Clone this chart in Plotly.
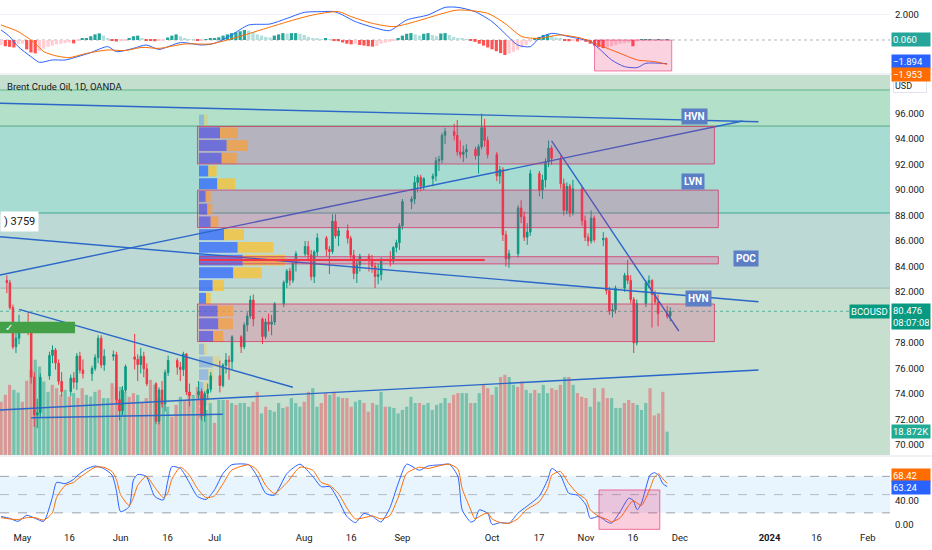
import pandas as pd
import plotly.graph_objects as go

# daily bars, weekends skipped (TradingView style)
dates = pd.bdate_range("2023-04-24", "2023-11-28")

open_ = [
    82.90, 82.73, 80.77, 77.69, 78.37,
    79.54, 79.31, 75.32, 72.33, 72.50, 75.40, 77.01, 77.44, 76.41, 74.98, 74.17, 75.23, 74.91, 76.96, 75.86,
    75.58, 75.99, 76.84, 78.36, 76.26, 76.95, 77.07, 73.54,
    72.66, 74.28, 76.90, 76.71, 76.29, 76.95, 75.96, 74.79, 71.84, 74.29, 73.20, 75.67, 76.61, 76.09, 75.90,
    77.12, 74.14, 73.90, 74.18, 72.26, 74.03, 74.34,
    75.41, 74.65, 76.25, 76.65, 76.52, 78.47, 77.69, 79.40, 80.11, 81.36, 79.87, 78.50, 79.63, 79.46, 79.64,
    81.07, 82.74, 83.64, 82.92, 84.24, 84.99,
    85.56, 84.91, 83.20, 85.14, 86.24, 85.34, 85.17, 87.55, 86.40, 86.81, 86.21, 84.89, 83.45, 84.12, 84.80,
    84.46, 84.03, 83.21, 83.36, 84.48, 84.42, 85.49, 85.86,
    87.20, 89.10, 89.30, 90.60, 91.00, 90.30, 90.90, 91.10, 92.30, 92.40, 94.30, 94.60, 94.30, 93.00, 92.80,
    93.00, 93.20, 92.70, 93.40, 94.90, 93.90,
    92.80, 91.10, 91.60, 86.50, 84.60, 85.00, 88.60, 87.90, 86.30, 86.70, 91.30, 90.00, 90.80, 92.20, 93.30,
    92.50, 90.50, 88.40, 90.30, 88.20, 90.10, 87.60,
    86.30, 86.00, 87.80, 86.10, 86.20, 82.10, 80.50, 80.60, 82.30, 83.30, 82.90, 81.40, 78.00, 81.10, 82.70,
    82.90, 81.80, 81.20, 80.30, 80.10,
]
high = [
    83.30, 82.95, 81.00, 78.90, 80.20,
    80.40, 79.50, 75.70, 73.60, 75.60, 77.30, 77.80, 77.60, 76.70, 75.70, 75.50, 75.70, 77.20, 77.30, 76.70,
    76.20, 77.10, 78.60, 78.60, 77.50, 77.40, 77.30, 74.20,
    74.60, 76.30, 78.70, 77.10, 77.60, 77.30, 76.40, 74.90, 74.50, 75.00, 75.90, 77.00, 76.80, 76.50, 77.30,
    77.20, 74.80, 75.00, 74.40, 74.20, 74.80, 75.70,
    76.60, 76.40, 77.20, 77.00, 78.60, 78.60, 79.60, 80.40, 81.70, 81.80, 80.00, 79.90, 80.30, 80.20, 81.20,
    82.90, 83.80, 83.90, 84.40, 85.20, 86.00,
    86.00, 85.30, 85.30, 86.60, 86.40, 85.60, 88.10, 88.10, 87.10, 87.30, 86.40, 85.30, 84.60, 85.00, 85.00,
    84.90, 84.30, 84.20, 84.70, 85.20, 85.60, 86.10, 87.40,
    89.30, 89.50, 91.10, 91.20, 91.20, 91.00, 91.30, 92.60, 92.70, 94.50, 94.90, 95.20, 95.50, 93.90, 93.50,
    93.60, 93.40, 93.60, 96.00, 95.60, 94.20,
    93.00, 91.90, 91.80, 86.80, 85.30, 88.80, 89.20, 88.30, 87.40, 91.60, 91.50, 91.20, 92.50, 93.90, 93.50,
    92.70, 90.90, 90.60, 90.50, 90.80, 90.30, 88.00,
    86.60, 88.40, 88.00, 86.70, 86.30, 82.40, 81.10, 82.50, 83.50, 84.50, 83.30, 81.60, 81.40, 82.90, 83.30,
    83.00, 82.10, 81.80, 80.90, 80.80,
]
low = [
    81.90, 80.60, 77.50, 77.20, 77.90,
    78.60, 74.80, 71.40, 71.30, 72.20, 75.10, 76.40, 75.90, 74.70, 73.80, 73.80, 74.40, 74.30, 75.60, 75.20,
    75.00, 75.80, 76.40, 76.00, 75.80, 76.60, 73.20, 71.90,
    72.30, 74.10, 75.90, 75.00, 75.60, 75.30, 74.60, 71.60, 71.60, 72.90, 72.60, 75.40, 75.50, 75.00, 75.40,
    73.90, 73.00, 73.60, 71.90, 71.80, 73.60, 74.10,
    74.10, 74.50, 75.60, 75.10, 75.90, 77.20, 77.50, 78.90, 79.90, 79.30, 77.90, 78.30, 78.90, 78.60, 79.40,
    80.80, 82.30, 82.50, 82.70, 83.60, 84.80,
    84.40, 82.90, 82.70, 84.80, 84.80, 83.40, 85.00, 86.20, 85.60, 85.80, 84.60, 83.00, 82.70, 83.60, 83.60,
    83.50, 82.30, 82.60, 82.90, 84.00, 84.20, 85.10, 85.30,
    86.90, 88.50, 88.90, 89.80, 89.90, 90.00, 90.30, 90.70, 91.50, 92.10, 93.60, 93.90, 92.70, 92.50, 92.20,
    92.50, 92.40, 91.30, 93.20, 93.40, 92.50,
    90.70, 90.50, 86.00, 84.00, 83.90, 84.70, 87.40, 86.00, 85.70, 86.40, 89.50, 89.30, 90.20, 91.80, 92.00,
    90.10, 88.00, 88.10, 87.90, 88.00, 87.20, 86.00,
    85.60, 85.80, 85.90, 85.60, 81.80, 80.20, 80.00, 80.30, 82.00, 82.60, 81.10, 77.20, 77.80, 80.80, 82.30,
    79.20, 81.00, 79.30, 79.90, 79.70,
]
close = [
    82.73, 80.77, 77.69, 78.37, 79.54,
    79.31, 75.32, 72.33, 72.50, 75.30, 77.01, 77.44, 76.41, 74.98, 74.17, 75.23, 74.91, 76.96, 75.86, 75.58,
    75.99, 76.84, 78.36, 76.26, 76.95, 77.07, 73.54, 72.66,
    74.28, 76.13, 76.71, 76.29, 76.95, 75.96, 74.79, 71.84, 74.29, 73.20, 75.67, 76.61, 76.09, 75.90, 77.12,
    74.14, 73.85, 74.18, 72.26, 74.03, 74.34, 75.41,
    74.65, 76.25, 76.65, 76.52, 78.47, 77.69, 79.40, 80.11, 81.36, 79.87, 78.50, 79.63, 79.46, 79.64, 81.07,
    82.74, 83.64, 82.92, 84.24, 84.99, 85.56,
    84.91, 83.20, 85.14, 86.24, 85.34, 85.17, 87.55, 86.40, 86.81, 86.21, 84.89, 83.45, 84.12, 84.80, 84.46,
    84.03, 83.21, 83.36, 84.48, 84.42, 85.49, 85.86, 87.20,
    89.10, 89.30, 90.60, 91.00, 90.30, 90.90, 91.10, 92.30, 92.40, 94.30, 94.60, 94.30, 93.00, 92.80, 93.00,
    93.20, 92.70, 93.40, 94.90, 93.90, 92.80,
    91.10, 91.60, 86.50, 84.60, 85.00, 88.60, 87.90, 86.30, 86.70, 91.30, 90.00, 90.80, 92.20, 93.30, 92.50,
    90.50, 88.40, 90.30, 88.20, 90.10, 87.60, 86.30,
    86.00, 87.80, 86.10, 86.20, 82.10, 80.50, 80.60, 82.30, 83.30, 82.90, 81.40, 78.00, 81.10, 82.70, 82.90,
    81.80, 81.20, 80.30, 80.10, 80.476,
]
volume_k = [
    43, 48.6, 56.7, 52.6, 50.4,
    43, 60, 68.8, 77, 71.5, 59.4, 51, 56.7, 54, 48.6, 52.6, 47.2, 50, 46, 54, 48.6, 47.2, 51, 52.6, 46, 46, 58, 55,
    55, 51, 47, 50, 48.6, 43, 46, 60.7, 56.7, 46, 41.8, 39, 31, 40.5, 47, 44.5, 51, 48.6, 55, 47, 36.4, 42,
    26, 44.5, 44.5, 44.5, 42, 40.5, 42, 42, 39, 43, 51, 33.6, 39, 36.4, 35, 42, 38, 39, 46, 42, 39,
    43, 51, 54, 39, 42, 50, 48.6, 51, 47, 46, 46, 39, 43, 44.5, 42, 35, 42, 40.5, 51, 39, 39, 38, 33.6,
    36.4, 39, 47, 42, 42, 40.5, 42, 36.4, 40.5, 42, 46, 42, 48.6, 50, 50, 50, 42, 42, 50, 56.7, 54,
    48.6, 55, 63, 64.8, 63, 56.7, 55, 59.4, 52.6, 50, 52.6, 50, 56.7, 50, 54, 52.6, 56.7, 63, 63, 56.7, 50, 47,
    46, 39, 54, 43, 54, 46, 46, 38, 38, 42, 44.5, 42, 40.5, 36.4, 42, 54, 32, 33.6, 51, 18.872,
]

# MACD pane
macd_hist = [
    -0.40, -0.50, -0.55, -0.60, -0.35,
    -0.30, -0.75, -1.00, -1.07, -0.90, -0.70, -0.55, -0.45, -0.35, -0.30, -0.25, -0.20, -0.27, -0.05, 0.08,
    0.15, 0.30, 0.45, 0.53, 0.35, 0.15, -0.05, -0.12,
    -0.10, -0.04, 0.15, 0.30, 0.35, 0.15, -0.03, -0.06, -0.10, -0.08, -0.03, 0.20, 0.35, 0.45, 0.30, 0.10,
    0.05, 0.02, -0.06, -0.05, 0.02, 0.08,
    0.12, 0.22, 0.35, 0.45, 0.55, 0.62, 0.70, 0.80, 0.75, 0.60, 0.45, 0.35, 0.25, 0.20, 0.35, 0.45, 0.55,
    0.50, 0.55, 0.55, 0.50,
    0.40, 0.25, 0.15, 0.10, 0.05, 0.10, 0.03, -0.02, -0.10, -0.20, -0.30, -0.35, -0.30, -0.40, -0.45, -0.50,
    -0.53, -0.48, -0.30, -0.22, -0.15, -0.05, 0.15,
    0.35, 0.50, 0.55, 0.45, 0.35, 0.50, 0.55, 0.40, 0.30, 0.52, 0.55, 0.40, 0.25, 0.15, 0.08, 0.03, -0.05,
    -0.15, -0.30, -0.45, -0.60,
    -0.75, -0.90, -1.05, -1.20, -1.10, -0.95, -0.80, -0.60, -0.40, -0.15, 0.10, 0.25, 0.40, 0.45, 0.35, 0.20,
    0.08, -0.05, -0.10, -0.08, -0.12, -0.05,
    -0.15, -0.30, -0.45, -0.55, -0.65, -0.60, -0.50, -0.40, -0.30, -0.25, -0.20, -0.50, -0.10, 0.02, 0.04,
    0.05, 0.03, 0.05, 0.04, 0.06,
]
macd_at = [0, 2, 4, 7, 9, 12, 15, 18, 21, 25, 27, 31, 34, 37, 42, 47, 50, 54, 58, 63, 67, 71, 75, 78,
           80, 83, 88, 91, 95, 100, 104, 107, 111, 115, 118, 121, 124, 126, 129, 133, 138, 140, 143,
           146, 149, 151, 156]
macd_line = [0.8, 0.27, -0.53, -1.33, -1.79, -1.6, -1.6, -1.33, -1.01, -0.53, -0.93, -0.67, -0.4, -0.75,
             -0.21, -0.4, -0.27, 0.4, 1.2, 1.28, 1.73, 2.21, 2.27, 2.27, 2.0, 1.47, 0.93, 0.75, 1.6, 2.0,
             2.61, 2.61, 2.27, 1.47, 0.53, -0.4, -0.53, 0.13, 0.53, 0.27, -0.13, -0.67, -1.6, -2.13,
             -2.21, -1.87, -1.894]
signal_at = [0, 4, 8, 10, 13, 16, 20, 25, 29, 33, 37, 43, 49, 53, 57, 62, 68, 73, 79, 82, 87, 92, 97,
             103, 107, 114, 118, 122, 126, 131, 136, 140, 145, 149, 153, 156]
signal_line = [1.2, 0.67, -0.27, -0.93, -1.28, -1.41, -1.07, -0.8, -0.85, -0.59, -0.67, -0.32, -0.32, 0,
               0.4, 0.93, 1.55, 2.0, 2.27, 1.87, 1.33, 1.07, 1.47, 2.08, 2.4, 2.13, 1.33, 0.27, 0.13,
               0.4, 0.13, -0.4, -1.07, -1.6, -1.73, -1.953]

# Stochastic pane
stoch_at = [0, 2, 4, 6, 8, 10, 12, 13, 15, 17, 18, 20, 22, 24, 26, 27, 28, 30, 31, 32, 34, 36, 38, 39,
            40, 42, 44, 46, 48, 50, 52, 54, 58, 60, 62, 64, 67, 70, 73, 75, 77, 79, 81, 83, 85, 87, 89,
            91, 93, 95, 98, 100, 103, 105, 107, 108, 110, 111, 112, 114, 115, 117, 119, 121, 123, 126,
            128, 129, 131, 133, 135, 137, 138, 140, 142, 143, 145, 147, 148, 149, 150, 152, 153, 154,
            155, 156]
stoch_k = [14, 11, 6, 16, 11, 6, 45, 70, 68, 75, 82, 92, 97, 93, 82, 57, 22, 30, 74, 83, 80, 47, 41, 71,
           96, 93, 71, 47, 42, 58, 85, 99, 99, 80, 52, 49, 85, 100, 80, 63, 63, 41, 14, 4, 19, 14, 5, 27,
           68, 100, 90, 97, 99, 100, 80, 25, 5, 8, 25, 19, 1, 4, 3, 19, 30, 47, 74, 93, 82, 52, 49, 33,
           11, 14, 5, 3, 22, 44, 41, 25, 36, 82, 86, 82, 68, 63.24]
stoch_d = [12, 10, 9, 12, 12, 8, 20, 45, 65, 70, 76, 86, 95, 95, 88, 75, 50, 32, 45, 65, 80, 62, 45, 52,
           75, 95, 83, 60, 45, 48, 68, 90, 99, 90, 65, 52, 70, 95, 90, 70, 65, 52, 28, 10, 12, 15, 10, 15,
           45, 85, 95, 93, 98, 100, 92, 60, 25, 10, 14, 20, 10, 4, 3, 10, 25, 38, 60, 82, 88, 68, 52, 42,
           25, 14, 9, 5, 12, 32, 40, 36, 32, 60, 78, 84, 76, 68.42]

# Volume profile rows (row low price, buy / sell volume)
vp_low = [72, 73, 74, 75, 76, 77, 78, 79, 80, 81, 82, 83, 84, 85, 86, 87, 88, 89, 90, 91, 92, 93, 94, 95]
vp_buy = [27, 77, 43, 93, 137, 50, 143, 193, 187, 70, 137, 343, 437, 387, 250, 117, 83, 67, 183, 93,
          227, 277, 210, 50]
vp_sell = [23, 33, 50, 50, 73, 27, 100, 147, 156, 47, 113, 284, 423, 356, 200, 76, 50, 50, 177, 84,
           150, 213, 180, 40]
value_area = (78, 94)

# drawings: trend lines ((date, price), (date, price))
trend_lines = [
    (("2023-04-21 18:00", 96.82), ("2023-12-27", 95.37)),
    (("2023-04-21 18:00", 83.33), ("2023-12-21 19:00", 95.43)),
    (("2023-04-21 18:00", 86.34), ("2023-12-27", 81.23)),
    (("2023-10-20", 93.86), ("2023-11-30 19:00", 78.93)),
    (("2023-04-28 01:00", 80.63), ("2023-07-27", 74.51)),
    (("2023-04-21 18:00", 72.72), ("2023-12-27", 75.87)),
    (("2023-05-02", 72.12), ("2023-07-04", 72.39)),
]
zones = [  # (bottom, top, colour)
    (97.86, 99.04, "#c5dfce"),
    (95.03, 97.86, "#b3e0c8"),
    (88.20, 95.03, "#a7dcd3"),
    (82.30, 88.20, "#bdd9d6"),
    (69.19, 82.30, "#c6dfcf"),
]
zone_lines = [(97.86, "#5fb58a"), (95.03, "#5aa982"), (88.20, "#38a98e"), (82.30, "#a3b3ab")]
boxes = [  # (start, end, bottom, top)
    ("2023-06-27", "2023-12-13 02:00", 92.05, 95.00),
    ("2023-06-27", "2023-12-14", 87.05, 90.00),
    ("2023-06-27 12:00", "2023-12-14", 84.20, 84.77),
    ("2023-06-27", "2023-12-13 02:00", 78.10, 81.05),
]
level_tags = [("HVN", "2023-12-06 10:00", 95.76), ("LVN", "2023-12-06", 90.64),
              ("POC", "2023-12-22 14:00", 84.59), ("HVN", "2023-12-07 07:00", 81.52)]

tick_dates = ["2023-05-01", "2023-05-16", "2023-06-01", "2023-06-16", "2023-07-03", "2023-08-01",
              "2023-08-16", "2023-09-01", "2023-10-02", "2023-10-17", "2023-11-01", "2023-11-16",
              "2023-12-01", "2024-01-01", "2024-01-16", "2024-02-01"]
tick_text = ["May", "16", "Jun", "16", "Jul", "Aug", "16", "Sep", "Oct", "17", "Nov", "16", "Dec",
             "<b>2024</b>", "16", "Feb"]
# 80.000 sits under the last-price tag, as in the original
price_ticks = [70, 72, 74, 76, 78, 82, 84, 86, 88, 90, 92, 94, 96]

UP, DOWN = "#089981", "#f23645"
BLUE, ORANGE = "#2962ff", "#ff6d00"
DRAW = "#2a67c9"
X_RANGE = ["2023-04-21 18:00", "2024-02-08 05:00"]
BREAKS = [dict(bounds=["sat", "mon"])]

fig = go.Figure()

# volume (base subplot, so it stays under everything else)
vol_colors = ["rgba(8,153,129,0.42)" if c >= o else "rgba(242,54,69,0.42)" for o, c in zip(open_, close)]
fig.add_trace(go.Bar(x=dates, y=volume_k, marker=dict(color=vol_colors, line_width=0),
                     xaxis="x", yaxis="y"))

# volume profile
vp_mid = [p + 0.5 for p in vp_low]
in_va = [value_area[0] <= p <= value_area[1] for p in vp_low]
fig.add_trace(go.Bar(y=vp_mid, x=vp_buy, base=0, orientation="h", width=0.86,
                     marker=dict(color=["rgba(41,98,255,0.72)" if v else "rgba(41,98,255,0.28)" for v in in_va],
                                 line_width=0),
                     xaxis="x2", yaxis="y2"))
fig.add_trace(go.Bar(y=vp_mid, x=vp_sell, base=vp_buy, orientation="h", width=0.86,
                     marker=dict(color=["rgba(251,192,45,0.75)" if v else "rgba(251,192,45,0.3)" for v in in_va],
                                 line_width=0),
                     xaxis="x2", yaxis="y2"))

# candles
fig.add_trace(go.Candlestick(
    x=dates, open=open_, high=high, low=low, close=close,
    increasing=dict(line=dict(color=UP, width=1), fillcolor=UP),
    decreasing=dict(line=dict(color=DOWN, width=1), fillcolor=DOWN),
    whiskerwidth=0, xaxis="x3", yaxis="y2"))

for (d0, p0), (d1, p1) in trend_lines:
    fig.add_trace(go.Scatter(x=[d0, d1], y=[p0, p1], mode="lines", line=dict(color=DRAW, width=1.4),
                             xaxis="x3", yaxis="y2"))

# MACD
hist_colors = []
for i, v in enumerate(macd_hist):
    prev = macd_hist[i - 1] if i else v
    if v >= 0:
        hist_colors.append("#26a69a" if v >= prev else "#b2dfdb")
    else:
        hist_colors.append("#ffcdd2" if v >= prev else "#ff5252")
fig.add_trace(go.Bar(x=dates, y=macd_hist, marker=dict(color=hist_colors, line_width=0),
                     xaxis="x", yaxis="y3"))
fig.add_trace(go.Scatter(x=[dates[i] for i in macd_at], y=macd_line, mode="lines",
                         line=dict(color=BLUE, width=1, shape="spline", smoothing=0.7), xaxis="x", yaxis="y3"))
fig.add_trace(go.Scatter(x=[dates[i] for i in signal_at], y=signal_line, mode="lines",
                         line=dict(color=ORANGE, width=1, shape="spline", smoothing=0.7), xaxis="x", yaxis="y3"))

# Stochastic
fig.add_trace(go.Scatter(x=[dates[i] for i in stoch_at], y=stoch_k, mode="lines",
                         line=dict(color=BLUE, width=1, shape="spline", smoothing=0.6), xaxis="x", yaxis="y4"))
fig.add_trace(go.Scatter(x=[dates[i] for i in stoch_at], y=stoch_d, mode="lines",
                         line=dict(color=ORANGE, width=1, shape="spline", smoothing=0.6), xaxis="x", yaxis="y4"))

shapes = []
for y0, y1, col in zones:
    shapes.append(dict(type="rect", xref="paper", yref="y2", x0=0, x1=1, y0=y0, y1=y1,
                       fillcolor=col, line_width=0, layer="below"))
for y, col in zone_lines:
    shapes.append(dict(type="line", xref="paper", yref="y2", x0=0, x1=1, y0=y, y1=y,
                       line=dict(color=col, width=1), layer="below"))
shapes.append(dict(type="line", xref="paper", yref="y2", x0=0, x1=1, y0=close[-1], y1=close[-1],
                   line=dict(color="rgba(8,153,129,0.6)", width=1, dash="dot"), layer="below"))
for x0, x1, y0, y1 in boxes:
    shapes.append(dict(type="rect", xref="x", yref="y2", x0=x0, x1=x1, y0=y0, y1=y1,
                       fillcolor="rgba(230,40,120,0.22)", line=dict(color="rgba(214,50,100,0.75)", width=1),
                       layer="above"))
shapes.append(dict(type="line", xref="x", yref="y2", x0="2023-06-27 08:00", x1="2023-09-28 07:00",
                   y0=84.5, y1=84.5, line=dict(color="#f23645", width=2), layer="above"))
# MACD / stoch helpers
shapes.append(dict(type="line", xref="paper", yref="y3", x0=0, x1=1, y0=0, y1=0,
                   line=dict(color="#b2b5be", width=1, dash="dot"), layer="below"))
shapes.append(dict(type="rect", xref="x", yref="y3", x0="2023-11-03", x1="2023-11-29 02:00", y0=-2.48, y1=0,
                   fillcolor="rgba(233,30,99,0.2)", line=dict(color="rgba(233,30,99,0.55)", width=1),
                   layer="above"))
shapes.append(dict(type="rect", xref="paper", yref="y4", x0=0, x1=1, y0=20, y1=80,
                   fillcolor="rgba(33,150,243,0.1)", line_width=0, layer="below"))
for lvl in (80, 50, 20):
    shapes.append(dict(type="line", xref="paper", yref="y4", x0=0, x1=1, y0=lvl, y1=lvl,
                       line=dict(color="rgba(120,123,134,0.7)" if lvl != 50 else "rgba(120,123,134,0.45)",
                                 width=1, dash="dash"), layer="below"))
shapes.append(dict(type="rect", xref="x", yref="y4", x0="2023-11-06 01:00", x1="2023-11-24 07:00",
                   y0=-7.1, y1=57.6, fillcolor="rgba(233,30,99,0.22)",
                   line=dict(color="rgba(233,30,99,0.6)", width=1), layer="above"))
# pane separators and left-edge position label
for yp in (0.8604, 0.1396):
    shapes.append(dict(type="line", xref="paper", yref="paper", x0=0, x1=1.05, y0=yp, y1=yp,
                       line=dict(color="#e0e3eb", width=1)))
shapes.append(dict(type="rect", xref="paper", yref="paper", x0=0, x1=0.0843, y0=0.371, y1=0.393,
                   fillcolor="#43a047", line_width=0, layer="above"))

annotations = [
    dict(xref="paper", yref="paper", x=0.0056, y=0.8377, xanchor="left", yanchor="middle",
         text="Brent Crude Oil, 1D, OANDA", showarrow=False, font=dict(size=9.5, color="#131722")),
    dict(xref="paper", yref="paper", x=0, y=0.583, xanchor="left", yanchor="middle", text=") 3759",
         showarrow=False, bgcolor="white", borderpad=3, font=dict(size=11, color="#131722")),
    dict(xref="paper", yref="paper", x=0.003, y=0.382, xanchor="left", yanchor="middle", text="✓",
         showarrow=False, font=dict(size=10, color="white")),
    dict(xref="paper", yref="paper", x=1, y=0.8368, xanchor="left", xshift=3, yanchor="middle", text="USD",
         showarrow=False, bgcolor="white", bordercolor="#e0e3eb", borderwidth=1, borderpad=1, width=30,
         align="left", font=dict(size=9, color="#131722")),
]
for label, d, p in level_tags:
    annotations.append(dict(xref="x", yref="y2", x=d, y=p, text=f"<b>{label}</b>", showarrow=False,
                            bgcolor="#5b7ec4", borderpad=2, font=dict(size=10, color="white")))


def axis_tag(text, y, yref, bg, yshift=0):
    annotations.append(dict(xref="paper", x=1, xanchor="left", xshift=1, y=y, yref=yref, yshift=yshift,
                            yanchor="middle", text=text, showarrow=False, bgcolor=bg, borderpad=1,
                            width=36, align="left", font=dict(size=9.5, color="white")))


axis_tag("0.060", macd_hist[-1], "y3", "#26a69a")
axis_tag("−1.894", macd_line[-1], "y3", BLUE, yshift=2)
axis_tag("−1.953", signal_line[-1], "y3", ORANGE, yshift=-10)
axis_tag(f"{close[-1]:.3f}<br>08:07:08", close[-1], "y2", UP, yshift=-5)
axis_tag(f"{volume_k[-1]:.3f}K", volume_k[-1], "y", "#22ab94")
axis_tag(f"{stoch_d[-1]:.2f}", stoch_d[-1], "y4", ORANGE, yshift=8)
axis_tag(f"{stoch_k[-1]:.2f}", stoch_k[-1], "y4", BLUE, yshift=-1)
annotations.append(dict(xref="paper", x=1, xanchor="right", y=close[-1], yref="y2", yanchor="middle",
                        text="BCOUSD", showarrow=False, bgcolor=UP, borderpad=1,
                        font=dict(size=9.5, color="white")))

TICK_FONT = dict(size=9.5, color="#131722")

fig.update_layout(
    width=932, height=550,
    margin=dict(l=0, r=42, t=0, b=20),
    paper_bgcolor="white", plot_bgcolor="white",
    showlegend=False, barmode="overlay", bargap=0.25, hovermode=False,
    font=dict(family="Roboto, Arial, sans-serif", size=10, color="#131722"),
    shapes=shapes, annotations=annotations,
    xaxis=dict(type="date", range=X_RANGE, rangebreaks=BREAKS, domain=[0, 1], anchor="y4",
               tickvals=tick_dates, ticktext=tick_text, ticks="", showgrid=False, showline=False,
               zeroline=False, rangeslider=dict(visible=False), tickfont=TICK_FONT),
    xaxis2=dict(overlaying="x", range=[-1990, 6910], visible=False, anchor="y"),
    xaxis3=dict(overlaying="x", type="date", range=X_RANGE, rangebreaks=BREAKS, visible=False,
                anchor="y", rangeslider=dict(visible=False)),
    yaxis=dict(domain=[0.1415, 0.8585], range=[0, 307], visible=False, anchor="x"),
    yaxis2=dict(overlaying="y", side="right", anchor="x", range=[69.19, 99.04], tickvals=price_ticks,
                ticktext=[f"{v:.3f}" for v in price_ticks], ticks="", showgrid=False, zeroline=False,
                showline=False, ticklabelstandoff=4, tickfont=TICK_FONT),
    yaxis3=dict(domain=[0.8642, 1], range=[-2.56, 3.2], side="right", anchor="x", tickvals=[2],
                ticktext=["2.000"], ticks="", showgrid=True, gridcolor="#f0f3fa", zeroline=False,
                ticklabelstandoff=4, tickfont=TICK_FONT),
    yaxis4=dict(domain=[0, 0.1377], range=[-8.2, 111.8], side="right", anchor="x", tickvals=[0, 40],
                ticktext=["0.00", "40.00"], ticks="", showgrid=False, zeroline=False,
                ticklabelstandoff=4, tickfont=TICK_FONT),
)

# the page's default body margin would shift the whole chart by 8px
fig.write_html("out.html", config={"displayModeBar": False},
               post_script="document.body.style.margin='0';")
